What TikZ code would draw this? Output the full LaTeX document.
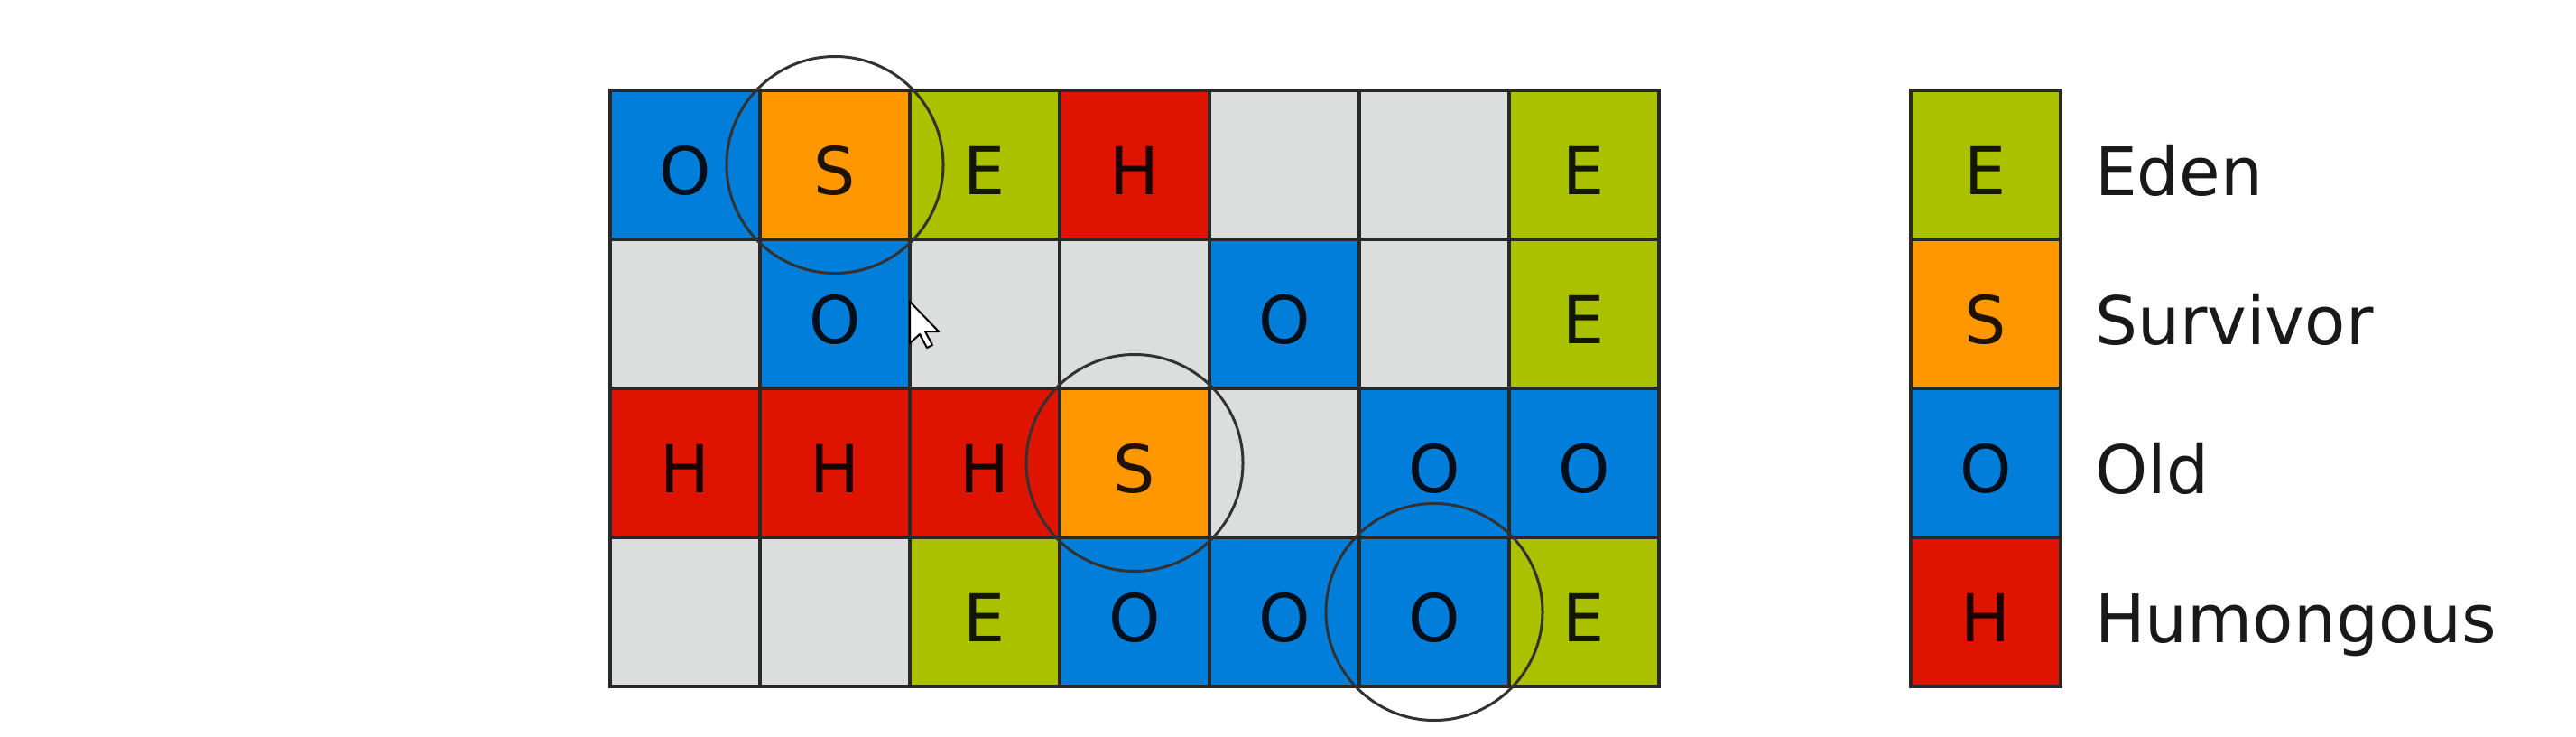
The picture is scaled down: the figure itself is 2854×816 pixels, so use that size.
\documentclass[tikz,border=0pt]{standalone}
\usepackage{fontspec}
\setmainfont{DejaVu Sans}
\definecolor{edenc}{RGB}{170,193,0}
\definecolor{survc}{RGB}{255,152,0}
\definecolor{oldc}{RGB}{0,126,218}
\definecolor{humc}{RGB}{222,20,0}
\definecolor{freec}{RGB}{220,221,221}
\definecolor{linec}{RGB}{40,40,40}
\definecolor{ringc}{RGB}{50,50,50}
\begin{document}
\begin{tikzpicture}[x=1pt,y=-1pt,
  cell/.style={draw=linec, line width=4.5pt, minimum width=166pt, minimum height=165pt,
    inner sep=0pt, text height=66pt, text depth=0pt,
    font=\fontsize{73}{80}\selectfont, text=black, text opacity=0.88},
  eden/.style={cell, fill=edenc},
  surv/.style={cell, fill=survc},
  old/.style={cell, fill=oldc},
  hum/.style={cell, fill=humc},
  free/.style={cell, fill=freec},
  ring/.style={draw=ringc, line width=3pt},
  legtext/.style={anchor=base west, inner sep=0pt, font=\fontsize{74}{80}\selectfont, text=black!90}]
\useasboundingbox[fill=white] (0,0) rectangle (2854,816);
% row 0
\node[old]  (c00) at (759,182.5) {O};
\node[surv] (c01) at (925,182.5) {S};
\node[eden] (c02) at (1091,182.5) {E};
\node[hum]  (c03) at (1257,182.5) {H};
\node[free] (c04) at (1423,182.5) {};
\node[free] (c05) at (1589,182.5) {};
\node[eden] (c06) at (1755,182.5) {E};
% row 1
\node[free] (c10) at (759,347.5) {};
\node[old]  (c11) at (925,347.5) {O};
\node[free] (c12) at (1091,347.5) {};
\node[free] (c13) at (1257,347.5) {};
\node[old]  (c14) at (1423,347.5) {O};
\node[free] (c15) at (1589,347.5) {};
\node[eden] (c16) at (1755,347.5) {E};
% row 2
\node[hum]  (c20) at (759,512.5) {H};
\node[hum]  (c21) at (925,512.5) {H};
\node[hum]  (c22) at (1091,512.5) {H};
\node[surv] (c23) at (1257,512.5) {S};
\node[free] (c24) at (1423,512.5) {};
\node[old]  (c25) at (1589,512.5) {O};
\node[old]  (c26) at (1755,512.5) {O};
% row 3
\node[free] (c30) at (759,677.5) {};
\node[free] (c31) at (925,677.5) {};
\node[eden] (c32) at (1091,677.5) {E};
\node[old]  (c33) at (1257,677.5) {O};
\node[old]  (c34) at (1423,677.5) {O};
\node[old]  (c35) at (1589,677.5) {O};
\node[eden] (c36) at (1755,677.5) {E};
% rings
\draw[ring] (c01.center) circle (120);
\draw[ring] (c23.center) circle (120);
\draw[ring] (c35.center) circle (120);
% legend
\node[eden] (le) at (2200,182.5) {E};
\node[surv] (ls) at (2200,347.5) {S};
\node[old]  (lo) at (2200,512.5) {O};
\node[hum]  (lh) at (2200,677.5) {H};
\node[legtext] (te) at (2321,216.5) {Eden};
\node[legtext] (ts) at (2321,381.5) {Survivor};
\node[legtext] (to) at (2321,546.5) {Old};
\node[legtext] (th) at (2321,711.5) {Humongous};
% mouse cursor
\coordinate (tip) at (1008,334);
\draw[fill=white, draw=black, line width=2pt, line join=round, shift={(tip)}]
  (0,0) -- (0,46) -- (11,36) -- (19,51) -- (25,48) -- (17,33) -- (32,33) -- cycle;
\end{tikzpicture}
\end{document}
